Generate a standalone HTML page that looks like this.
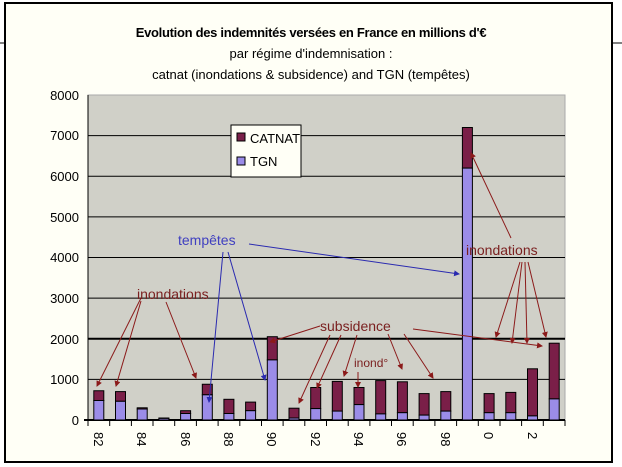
<!DOCTYPE html><html><head><meta charset="utf-8"><style>body{margin:0;background:#fff}svg{display:block}text{font-family:"Liberation Sans",sans-serif}</style></head><body>
<svg width="622" height="467" viewBox="0 0 622 467" xmlns="http://www.w3.org/2000/svg">
<defs>
<marker id="ar" markerWidth="6" markerHeight="6" refX="5" refY="3" orient="auto"><path d="M0,0 L6,3 L0,6z" fill="#8b1a1a"/></marker>
<marker id="ab" markerWidth="6" markerHeight="6" refX="5" refY="3" orient="auto"><path d="M0,0 L6,3 L0,6z" fill="#2a2ab0"/></marker>
</defs>
<rect width="622" height="467" fill="#fff"/>
<line x1="0" y1="43" x2="622" y2="43" stroke="#000"/>
<rect x="5" y="3" width="607" height="459" fill="#fffff6" stroke="#000" stroke-width="2"/>
<text x="311" y="37" font-size="13" font-weight="bold" text-anchor="middle" letter-spacing="-0.3">Evolution des indemnités versées en France en millions d'€</text>
<text x="311" y="58" font-size="13" text-anchor="middle">par régime d'indemnisation :</text>
<text x="311" y="79" font-size="13" text-anchor="middle">catnat (inondations &amp; subsidence) and TGN (tempêtes)</text>
<rect x="88" y="95" width="477" height="325" fill="#d0d0c8" stroke="#aaa"/>
<g stroke="#000" stroke-width="1">
<line x1="88" y1="379.4" x2="565" y2="379.4"/><line x1="88" y1="338.7" x2="565" y2="338.7" stroke-width="2"/>
<line x1="88" y1="298.1" x2="565" y2="298.1"/><line x1="88" y1="257.5" x2="565" y2="257.5"/>
<line x1="88" y1="216.9" x2="565" y2="216.9"/><line x1="88" y1="176.2" x2="565" y2="176.2"/>
<line x1="88" y1="135.6" x2="565" y2="135.6"/>
<line x1="88" y1="95" x2="88" y2="420"/><line x1="84" y1="420" x2="565" y2="420" stroke-width="2"/>
</g>
<g font-size="13" text-anchor="end">
<text x="79" y="425">0</text><text x="79" y="384">1000</text><text x="79" y="344">2000</text><text x="79" y="303">3000</text><text x="79" y="262">4000</text><text x="79" y="222">5000</text><text x="79" y="181">6000</text><text x="79" y="140">7000</text><text x="79" y="100">8000</text>
</g>
<g stroke="#000" stroke-width="1">
<g fill="#7a1f48">
<rect x="93.8" y="390.75" width="10" height="9.75"/>
<rect x="115.5" y="391.6" width="10" height="9.7"/>
<rect x="137.2" y="407.8" width="10" height="1.2"/>
<rect x="158.9" y="418" width="10" height="0.4"/>
<rect x="180.6" y="410.7" width="10" height="2.8"/>
<rect x="202.3" y="384.25" width="10" height="10.55"/>
<rect x="223.9" y="399.3" width="10" height="14.2"/>
<rect x="245.6" y="402.1" width="10" height="8.6"/>
<rect x="267.3" y="336.7" width="10" height="23.2"/>
<rect x="289" y="408.2" width="10" height="9.8"/>
<rect x="310.7" y="387.5" width="10" height="21.1"/>
<rect x="332.3" y="381.4" width="10" height="29.7"/>
<rect x="354" y="387.5" width="10" height="17.1"/>
<rect x="375.7" y="380.6" width="10" height="33.3"/>
<rect x="397.4" y="381.8" width="10" height="30.9"/>
<rect x="419.1" y="393.6" width="10" height="21.5"/>
<rect x="440.8" y="391.6" width="10" height="19.5"/>
<rect x="462.4" y="127.5" width="10" height="40.6"/>
<rect x="484.1" y="393.6" width="10" height="19.1"/>
<rect x="505.8" y="392.4" width="10" height="20.3"/>
<rect x="527.5" y="368.8" width="10" height="47.1"/>
<rect x="549.2" y="343.2" width="10" height="55.7"/>
</g>
<g fill="#9b8ce8">
<rect x="93.8" y="400.5" width="10" height="19.5"/>
<rect x="115.5" y="401.3" width="10" height="18.7"/>
<rect x="137.2" y="409" width="10" height="11"/>
<rect x="158.9" y="418.4" width="10" height="1.6"/>
<rect x="180.6" y="413.5" width="10" height="6.5"/>
<rect x="202.3" y="394.8" width="10" height="25.2"/>
<rect x="223.9" y="413.5" width="10" height="6.5"/>
<rect x="245.6" y="410.7" width="10" height="9.3"/>
<rect x="267.3" y="359.9" width="10" height="60.1"/>
<rect x="289" y="418" width="10" height="2"/>
<rect x="310.7" y="408.6" width="10" height="11.4"/>
<rect x="332.3" y="411.1" width="10" height="8.9"/>
<rect x="354" y="404.6" width="10" height="15.4"/>
<rect x="375.7" y="413.9" width="10" height="6.1"/>
<rect x="397.4" y="412.7" width="10" height="7.3"/>
<rect x="419.1" y="415.1" width="10" height="4.9"/>
<rect x="440.8" y="411.1" width="10" height="8.9"/>
<rect x="462.4" y="168.1" width="10" height="251.9"/>
<rect x="484.1" y="412.7" width="10" height="7.3"/>
<rect x="505.8" y="412.7" width="10" height="7.3"/>
<rect x="527.5" y="415.9" width="10" height="4.1"/>
<rect x="549.2" y="398.9" width="10" height="21.1"/>
</g>
</g>
<g stroke="#000">
<line x1="88" y1="420" x2="88" y2="426"/><line x1="109.7" y1="420" x2="109.7" y2="426"/><line x1="131.4" y1="420" x2="131.4" y2="426"/><line x1="153" y1="420" x2="153" y2="426"/><line x1="174.7" y1="420" x2="174.7" y2="426"/><line x1="196.4" y1="420" x2="196.4" y2="426"/><line x1="218.1" y1="420" x2="218.1" y2="426"/><line x1="239.8" y1="420" x2="239.8" y2="426"/><line x1="261.5" y1="420" x2="261.5" y2="426"/><line x1="283.1" y1="420" x2="283.1" y2="426"/><line x1="304.8" y1="420" x2="304.8" y2="426"/><line x1="326.5" y1="420" x2="326.5" y2="426"/><line x1="348.2" y1="420" x2="348.2" y2="426"/><line x1="369.9" y1="420" x2="369.9" y2="426"/><line x1="391.5" y1="420" x2="391.5" y2="426"/><line x1="413.2" y1="420" x2="413.2" y2="426"/><line x1="434.9" y1="420" x2="434.9" y2="426"/><line x1="456.6" y1="420" x2="456.6" y2="426"/><line x1="478.3" y1="420" x2="478.3" y2="426"/><line x1="500" y1="420" x2="500" y2="426"/><line x1="521.6" y1="420" x2="521.6" y2="426"/><line x1="543.3" y1="420" x2="543.3" y2="426"/><line x1="565" y1="420" x2="565" y2="426"/>
</g>
<g font-size="13">
<text transform="translate(94,432) rotate(90)">82</text>
<text transform="translate(137,432) rotate(90)">84</text>
<text transform="translate(181,432) rotate(90)">86</text>
<text transform="translate(224,432) rotate(90)">88</text>
<text transform="translate(267,432) rotate(90)">90</text>
<text transform="translate(311,432) rotate(90)">92</text>
<text transform="translate(354,432) rotate(90)">94</text>
<text transform="translate(397,432) rotate(90)">96</text>
<text transform="translate(441,432) rotate(90)">98</text>
<text transform="translate(484,432) rotate(90)">0</text>
<text transform="translate(528,432) rotate(90)">2</text>
</g>
<rect x="231" y="125" width="70" height="52" fill="#fffff6" stroke="#000"/>
<rect x="237" y="133" width="8" height="8" fill="#7a1f48" stroke="#000"/>
<rect x="237" y="157" width="8" height="8" fill="#9b8ce8" stroke="#000"/>
<text x="250" y="143" font-size="13">CATNAT</text><text x="250" y="166" font-size="13">TGN</text>
<g stroke="#8b1a1a" stroke-width="1" fill="none" marker-end="url(#ar)">
<line x1="141" y1="298" x2="97" y2="386"/><line x1="141" y1="301" x2="116" y2="386"/><line x1="166" y1="302" x2="196" y2="378"/>
<line x1="320" y1="326" x2="270" y2="342"/><line x1="330" y1="335" x2="299" y2="403"/><line x1="341" y1="335" x2="317" y2="388"/><line x1="357" y1="335" x2="344" y2="376"/>
<line x1="358" y1="372" x2="358" y2="387"/>
<line x1="388" y1="334" x2="402" y2="369"/><line x1="404" y1="334" x2="433" y2="378"/>
<line x1="413" y1="329" x2="542" y2="346"/>
<line x1="511" y1="238" x2="471" y2="153"/>
<line x1="520" y1="262" x2="496" y2="337"/><line x1="522" y1="262" x2="512" y2="343"/><line x1="525" y1="262" x2="527" y2="343"/><line x1="528" y1="262" x2="546" y2="337"/>
</g>
<g stroke="#2a2ab0" stroke-width="1" marker-end="url(#ab)">
<line x1="249" y1="244" x2="459" y2="274"/><line x1="223" y1="252" x2="209" y2="402"/><line x1="228" y1="252" x2="265" y2="380"/>
</g>
<text x="178" y="245" font-size="14" fill="#4040c0">tempêtes</text>
<text x="137" y="299" font-size="14" fill="#7a1f1f">inondations</text>
<text x="320" y="331" font-size="14" fill="#7a1f1f">subsidence</text>
<text x="354" y="367" font-size="12" fill="#7a1f1f">inond°</text>
<text x="466" y="255" font-size="14" fill="#7a1f1f">inondations</text>
</svg></body></html>
